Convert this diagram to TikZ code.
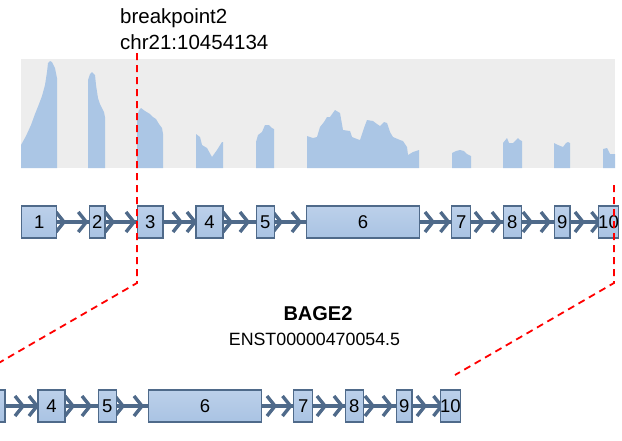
\documentclass[tikz,border=0pt]{standalone}
\usepackage{fontspec}
\setmainfont{Liberation Sans}
\usetikzlibrary{decorations.markings,calc}
\pgfdeclarelayer{bglayer}
\pgfsetlayers{bglayer,main}
\definecolor{bggray}{HTML}{EDEDED}
\definecolor{covblue}{HTML}{ABC6E5}
\definecolor{exedge}{HTML}{4F6A8A}
\definecolor{extop}{HTML}{BCD0EA}
\definecolor{exmid}{HTML}{CCDBEF}
\definecolor{exbot}{HTML}{A9C3E3}
\newcommand\chevmark{\draw[exedge, line width=3.4pt, line join=miter] (-8,10) -- (0,0) -- (-8,-10);}
\tikzset{
  exon/.style={draw=exedge, line width=1.3pt, top color=extop, middle color=exmid, bottom color=exbot,
    minimum height=32pt, inner sep=0pt, font=\fontsize{18.5}{18.5}\selectfont},
  intron/.style 2 args={draw=exedge, line width=3.5pt,
    postaction={decorate, decoration={markings,
      mark=at position #1pt with {\chevmark},
      mark=at position #2pt with {\chevmark}}}},
  bpline/.style={draw=red, dash pattern=on 7pt off 5pt, line width=1.8pt},
  cov/.style={fill=covblue, draw=none},
  lbl/.style={font=\fontsize{20.5}{20.5}\selectfont, inner sep=0pt}
}
\begin{document}
\begin{tikzpicture}[x=1pt, y=-1pt]
\clip (0,0) rectangle (622,440);
\begin{pgfonlayer}{bglayer}
\fill[white] (0,0) rectangle (622,440);
\fill[bggray] (21,59) rectangle (615,168);
\fill[cov] (21,168) -- (21,145) -- (26,136) -- (31,125) -- (35,114) -- (39,104) -- (42,96) -- (45,85) -- (47,72) -- (48,63) -- (50,61) -- (52,62) -- (54,66) -- (55,68) -- (57,78) -- (57,168) -- cycle;
\fill[cov] (88,168) -- (88,80) -- (90,74) -- (92,72) -- (95,75) -- (96,85) -- (98,98) -- (100,104) -- (102,108) -- (104,112) -- (105,117) -- (105,168) -- cycle;
\fill[cov] (137,168) -- (137,117) -- (139,110) -- (141,108) -- (145,111) -- (150,114) -- (153,117) -- (156,119) -- (159,124) -- (162,128) -- (163,134) -- (163,168) -- cycle;
\fill[cov] (196,168) -- (196,134) -- (200,137) -- (202,145) -- (207,148) -- (212,157) -- (217,150) -- (222,142) -- (223,142) -- (223,168) -- cycle;
\fill[cov] (256,168) -- (256,142) -- (258,135) -- (262,132) -- (265,125) -- (269,125) -- (272,128) -- (274,129) -- (274,168) -- cycle;
\fill[cov] (307,168) -- (307,136) -- (313,138) -- (317,137) -- (320,127) -- (324,122) -- (327,117) -- (330,117) -- (335,110) -- (340,113) -- (343,130) -- (350,131) -- (352,137) -- (357,139) -- (360,140) -- (364,128) -- (367,120) -- (373,121) -- (377,124) -- (380,126) -- (384,122) -- (387,123) -- (390,132) -- (393,137) -- (400,140) -- (403,141) -- (407,147) -- (408,155) -- (413,152) -- (419,150) -- (419,168) -- cycle;
\fill[cov] (452,168) -- (452,153) -- (456,151) -- (460,150) -- (464,151) -- (467,154) -- (471,156) -- (471,168) -- cycle;
\fill[cov] (503,168) -- (503,143) -- (507,138) -- (509,143) -- (513,143) -- (518,138) -- (520,140) -- (522,141) -- (522,168) -- cycle;
\fill[cov] (554,168) -- (554,143) -- (558,145) -- (563,147) -- (566,143) -- (568,142) -- (570,143) -- (570,168) -- cycle;
\fill[cov] (603,168) -- (603,149) -- (607,148) -- (610,154) -- (615,154) -- (615,168) -- cycle;
\end{pgfonlayer}
% labels
\node[lbl, anchor=base west] (bpname) at (120,23) {breakpoint2};
\node[lbl, anchor=base west] (bpcoord) at (120,49.5) {chr21:10454134};
\node[lbl, anchor=base, font=\bfseries\fontsize{20}{20}\selectfont] (gene) at (318,320) {BAGE2};
\node[lbl, anchor=base, font=\fontsize{17.8}{17.8}\selectfont] (tx) at (314.5,345) {ENST00000470054.5};
% top row
\foreach \c/\w/\n in {39.15/36.3/1, 97.35/16.7/2, 150.35/26.7/3, 209.5/28.4/4, 265.35/19.3/5, 363/114/6, 461.15/20.3/7, 512.35/19.3/8, 562.35/16.7/9, 608.5/13/10}
  \node[exon, minimum width=\w pt-1.3pt] (t\n) at (\c,222) {\n};
\begin{pgfonlayer}{bglayer}
\foreach \a/\b/\p/\q in {1/2/6.7/29, 2/3/7.3/28.3, 3/4/17.3/31.3, 4/5/7.3/24.3, 5/6/6/25, 6/7/13/28.5, 7/8/11.7/28.7, 8/9/9/27, 9/10/12.3/28.8}
  \draw[intron={\p}{\q}] (t\a.east) -- (t\b.center);
\end{pgfonlayer}
% bottom row
\node[exon, minimum width=25.4pt] (u3) at (-7.65,406) {};
\foreach \c/\w/\n in {209.5/28.4/4, 265.35/19.3/5, 363/114/6, 461.15/20.3/7, 512.35/19.3/8, 562.35/16.7/9, 608.5/13/10}
  \node[exon, minimum width=\w pt-1.3pt] (u\n) at (\c-158,406) {\n};
\begin{pgfonlayer}{bglayer}
\foreach \a/\b/\p/\q in {3/4/17.3/31.3, 4/5/7.3/24.3, 5/6/6/25, 6/7/13/28.5, 7/8/11.7/28.7, 8/9/9/27, 9/10/12.3/28.8}
  \draw[intron={\p}{\q}] (u\a.east) -- (u\b.center);
\end{pgfonlayer}
% breakpoint lines
\coordinate (l1) at (137,53);
\coordinate (l2) at (137,283);
\coordinate (l3) at (-10,368);
\coordinate (r1) at (614,185);
\coordinate (r2) at (614,283);
\coordinate (r3) at (455,375);
\draw[bpline] (l1) -- (l2) -- (l3);
\draw[bpline] (r1) -- (r2) -- (r3);
\end{tikzpicture}
\end{document}
